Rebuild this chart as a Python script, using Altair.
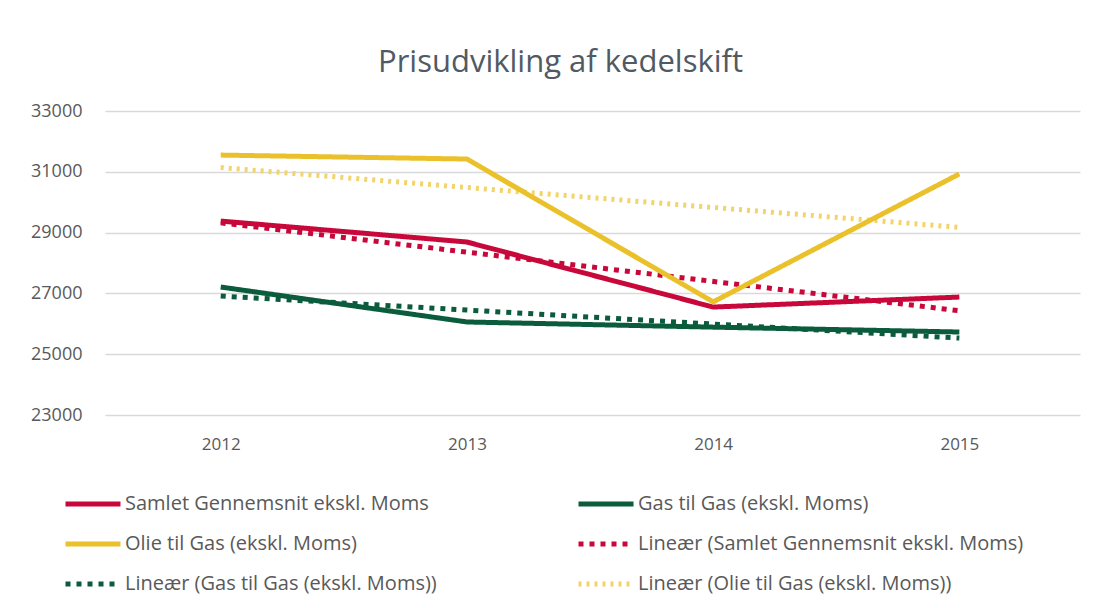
import altair as alt
import pandas as pd

years = [2012, 2013, 2014, 2015]
samlet = [29380, 28690, 26550, 26880]
gas_gas = [27210, 26060, 25890, 25730]
olie_gas = [31550, 31420, 26720, 30930]

s_samlet = "Samlet Gennemsnit ekskl. Moms"
s_gas = "Gas til Gas (ekskl. Moms)"
s_olie = "Olie til Gas (ekskl. Moms)"
series_names = [s_samlet, s_gas, s_olie]
trend_names = ["Lineær (" + s + ")" for s in series_names]

# legend fills column by column: col 1 then col 2
legend_order = [s_samlet, s_olie, trend_names[1], s_gas, trend_names[0], trend_names[2]]
colors = ["#C8083A", "#EAC12A", "#0A5C3C", "#0A5C3C", "#C8083A", "#F2D46A"]
dashes = [[1, 0], [1, 0], [5, 6], [1, 0], [5, 6], [3, 5]]
widths = [5, 5, 6, 5, 6, 2.5]

rows = []
for name, vals in zip(series_names, [samlet, gas_gas, olie_gas]):
    for y, v in zip(years, vals):
        rows.append({"year": y, "value": v, "series": name})
df = pd.DataFrame(rows)

font = "Open Sans"
gray = "#595959"

color_enc = alt.Color(
    "label:N",
    scale=alt.Scale(domain=legend_order, range=colors),
    sort=legend_order,
    legend=alt.Legend(
        title=None, orient="none", legendX=-42, legendY=363, columns=2,
        symbolType="stroke", symbolSize=3025, labelFontSize=20, labelFont=font,
        labelColor=gray, rowPadding=0, columnPadding=131, labelOffset=2,
        labelLimit=500, symbolLimit=0,
    ),
)
dash_enc = alt.StrokeDash("label:N", scale=alt.Scale(domain=legend_order, range=dashes), sort=legend_order, legend=alt.Legend(title=None))
width_enc = alt.StrokeWidth("label:N", scale=alt.Scale(domain=legend_order, range=widths), sort=legend_order, legend=alt.Legend(title=None))

x_enc = alt.X(
    "year:Q",
    scale=alt.Scale(domain=[2011.53, 2015.49], nice=False, zero=False),
    axis=alt.Axis(values=years, format="d", title=None, grid=False, ticks=False, domain=False,
                  labelFontSize=17, labelFont=font, labelColor=gray, labelPadding=21),
)
y_enc = alt.Y(
    "value:Q",
    scale=alt.Scale(domain=[23000, 33000], nice=False, zero=False),
    axis=alt.Axis(values=list(range(23000, 33001, 2000)), format="d", title=None, ticks=False,
                  domain=False, gridColor="#D9D9D9", gridWidth=1.5, labelFontSize=18,
                  labelFont=font, labelColor=gray, labelPadding=23),
)

base = alt.Chart(df)

trend = base.transform_regression(
    "year", "value", groupby=["series"]
).transform_calculate(
    label="'Lineær (' + datum.series + ')'"
).mark_line().encode(
    x=x_enc, y=y_enc, color=color_enc, strokeDash=dash_enc, strokeWidth=width_enc,
    detail="series:N",
)

lines = base.transform_calculate(label="datum.series").mark_line().encode(
    x=x_enc, y=y_enc, color=color_enc, strokeDash=dash_enc, strokeWidth=width_enc,
)

chart = alt.layer(trend, lines).properties(
    width=975, height=304,
    title=alt.Title("Prisudvikling af kedelskift", fontSize=31, font=font, fontWeight="normal",
                    color="#505A64", offset=23, dx=-32),
    padding={"left": 22, "top": 39, "right": 5, "bottom": 5},
).configure_view(stroke=None)

chart.save("out.html", embed_options={"renderer": "svg", "actions": False})
